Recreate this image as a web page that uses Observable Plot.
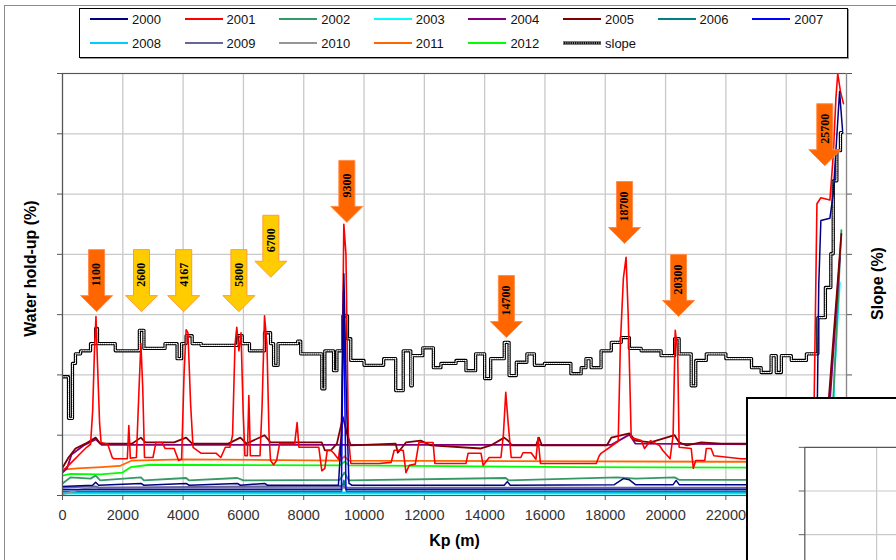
<!DOCTYPE html>
<html>
<head>
<meta charset="utf-8">
<script src="https://cdn.jsdelivr.net/npm/d3@7"></script>
<script src="https://cdn.jsdelivr.net/npm/@observablehq/plot@0.6"></script>
<style>
html,body{margin:0;padding:0;background:#fff;}
#wrap{position:relative;width:896px;height:560px;overflow:hidden;background:#fff;font-family:"Liberation Sans",Arial,sans-serif;}
#frame{position:absolute;left:4px;top:5px;width:960px;height:600px;border-top:1.5px solid #8c8c8c;border-left:1.5px solid #8c8c8c;}
#chart{position:absolute;left:0;top:0;}
#legend{position:absolute;left:79px;top:8px;width:767px;height:48px;border:1px solid #000;box-shadow:1px 1px 0 #999;background:#fff;}
.item{position:absolute;height:16px;display:flex;align-items:center;font-size:13px;color:#111;white-space:nowrap;}
.item svg{margin-right:3px;}
#overlay{position:absolute;left:746px;top:397px;width:200px;height:220px;border-left:2px solid #000;border-top:2px solid #000;background:#fff;overflow:hidden;}
</style>
</head>
<body>
<div id="wrap">
  <div id="frame"></div>
  <div id="chart"></div>
  <div id="legend"></div>
  <div id="overlay"></div>
</div>
<script>
// ---------- data ----------
const xTicks = [0,2000,4000,6000,8000,10000,12000,14000,16000,18000,20000,22000,24000,26000];
const yTicks = [0,10,20,30,40,50,60,70];

const legendNames  = ["2000","2001","2002","2003","2004","2005","2006","2007","2008","2009","2010","2011","2012","slope"];
const seriesColors = ["#000080","#FF0000","#339966","#00FFFF","#800080","#800000","#008080","#0000FF","#00CCFF","#666699","#969696","#FF6600","#00FF00","#000000"];

const kp2000 = [0,1000,1100,1200,2600,2700,4100,4200,5800,5900,6700,6800,9150,9250,9330,9420,9500,9600,14650,14750,14850,18300,18600,18800,19000,20250,20350,20450,25000,25080,25150,25450,25560,25770,25870];
const hu2000 = [1.5,1.7,2.2,1.7,2.0,1.7,2.0,1.7,2.0,1.7,2.0,1.7,1.7,10,36.8,15,2,1.7,1.7,2.3,1.7,1.8,2.8,2.6,1.8,1.8,2.5,1.8,1.8,35,45.6,46,50,67,60.5];

const kp2001 = [0,200,400,600,800,930,1000,1060,1110,1160,1230,1280,1500,1650,1700,2150,2200,2250,2450,2540,2600,2660,2720,3000,3100,3300,3400,3700,3850,3950,4030,4100,4160,4250,4330,4600,5100,5250,5400,5550,5640,5720,5780,5850,5920,5990,6050,6130,6180,6230,6550,6620,6700,6780,6850,6900,7000,7100,7200,7700,7780,7840,8500,8600,8700,8780,8900,9000,9150,9250,9330,9400,9480,9560,10500,10900,11000,11300,11390,11500,11700,11820,12290,12350,13380,13450,13880,13950,14150,14540,14620,14700,14780,14880,15200,15270,15540,15700,15770,15850,17700,17800,17860,18150,18430,18500,18600,18690,18760,18860,19200,19300,19500,19800,19900,20150,20250,20320,20400,20450,20850,20920,21000,21300,21350,21510,21600,22500,24900,25020,25150,25450,25560,25650,25710,25800,25900];
const hu2001 = [4.1,5.0,6.0,7.0,8.0,8.5,14,24,29.7,22,12,8.8,8.5,6.3,6.1,6.1,11.6,6.2,6.3,18,25.2,18,6.3,6.3,8.8,8.8,7.8,7.8,5.8,6,20,27.5,27,15,8,7,7,6.3,8,8,10,25,27.9,24,27,14,6.6,6.6,16.6,6.6,6.6,15,29.8,25,10,5.8,5.1,5.8,8.6,8.6,12.1,8,8,4.1,4.5,7.5,7.5,7,6,10,45,40,10,5.3,5.3,5.5,7.5,7.5,3.8,5,5.2,8.8,8.8,5.3,5.3,7,7,5,6.3,6.3,10,17.1,12,6.3,6.3,7.1,7.1,6,9.6,5.3,5.3,6.6,7,8,9,25,36,39.5,30,9.6,9.1,7.8,9.1,8.3,7.5,6.1,10,27.4,24,8,7.8,4.5,5.8,5.8,7.8,7.8,6.6,6.1,6,48.4,49.4,49,56.4,66,70,67,65];

const kp2002 = [0,260,930,1100,1250,2600,2700,4100,4200,5800,6000,9200,9350,9500,14700,14800,18400,19000,20300,20450,25400,25550,25830];
const hu2002 = [2.0,3.0,2.8,3.3,2.5,3.0,2.5,2.9,2.5,2.9,2.5,2.6,3.8,2.5,2.9,2.5,3.0,2.8,3.0,2.6,2.6,15,44];

const kp2003 = [0,25500,25600,25780];
const hu2003 = [0.3,0.3,20,35.3];

const kp2004 = [0,150,300,700,1100,1300,18200,18800,19000,25350,25780];
const hu2004 = [3.8,4.5,6.8,8.3,9.3,8.4,8.4,10.1,8.6,8.4,39.5];

const kp2005 = [0,200,430,760,1100,1250,2300,2600,2750,3700,4100,4300,5500,5900,6100,6700,6900,8600,8700,8900,9100,9300,9450,9560,11050,11120,11390,11880,12220,13880,14200,14650,14800,14900,15700,15800,15900,18050,18200,18800,19000,19500,20300,20450,20700,21180,21840,25300,25830];
const hu2005 = [4.6,6.3,7.8,8.6,9.6,8.6,8.6,9.6,8.8,8.8,9.6,8.6,8.6,9.6,8.6,10,8.8,8.8,7.5,7.5,8.6,13,10,8.3,8.6,7.1,8.8,9.1,8.3,7.8,8.3,9.6,9.0,8.3,8.3,9.6,8.3,8.3,9.6,10.3,9.1,8.8,10,8.8,8.3,8.8,8.6,8.6,43.4];

const kp2006 = [0,9250,9330,9420,25000];
const hu2006 = [0.7,0.7,2.5,0.7,0.7];

const kp2007 = [0,9250,9320,9400,25000];
const hu2007 = [1.0,1.0,34,1.0,1.0];

const kp2008 = [0,25000];
const hu2008 = [0.5,0.5];

const kp2009 = [0,1100,1200,9300,9400,25000];
const hu2009 = [1.3,1.5,1.3,1.6,1.3,1.3];

const kp2010 = [0,600,1000,25000];
const hu2010 = [0.2,1.0,1.3,1.2];

const kp2011 = [0,500,1300,1900,2300,4000,9200,9350,9500,22000,25000];
const hu2011 = [4.3,4.5,4.7,4.9,5.8,6.0,5.8,6.5,5.8,5.6,5.6];

const kp2012 = [0,260,1260,1990,2260,2900,9200,9350,9500,17000,25000];
const hu2012 = [3.3,3.6,3.5,3.8,4.7,5.1,5.0,5.6,5.0,4.7,4.6];

const kpSlope = [0,200,330,430,600,930,1100,1160,1750,2550,2700,3400,3800,3950,4100,4300,4600,5800,5960,6200,6700,6900,7000,7150,7800,7900,8600,8700,8990,9100,9300,9450,9560,10000,10650,11050,11300,11550,11600,11950,12300,12550,13050,13380,13700,14000,14200,14650,14810,15050,15400,15650,15980,16860,17200,17360,17530,17860,18200,18530,18800,19190,19850,20300,20450,20850,21000,21350,22000,22850,23170,23500,23670,23840,24170,24670,25050,25300,25480,25560,25680,25800,25850];
const slope   = [19.7,12.8,21.9,23.5,24,25.2,27.7,25.2,24,27.4,24.4,25.2,22.7,25.2,26.5,25.2,24.9,26.5,25.2,24,27,25.2,21.6,25.2,25.6,23.5,17.7,24,20.7,24,29.8,26,22.4,21.6,22.7,17.4,24,18.2,23.2,24.5,21.2,21.9,22.4,20.7,23.5,19.4,22.7,25.4,19.9,22.1,23.5,21.6,21.9,20.2,21.2,22.7,21.2,24,25.4,26.2,24.4,24,23.2,26,23.5,18.2,22.4,23.5,22.7,21.2,20.4,23.2,20.4,23.2,22.4,23.5,29.5,34.5,40.1,52.2,57.2,60.2,60.2];

// arrow annotations
const arrowLabel = ["1100","2600","4167","5800","6700","9300","14700","18700","20300","25700"];
const arrowKp    = [1130,2620,4020,5850,6910,9430,14720,18640,20430,25280];
const arrowTip   = [30.5,30.5,30.5,30.5,36.2,45.3,26.2,41.8,29.7,54.7];
const arrowMajor = [true,false,false,false,false,true,true,true,true,true];

// ---------- build ----------
const seriesKp = {"2000":kp2000,"2001":kp2001,"2002":kp2002,"2003":kp2003,"2004":kp2004,"2005":kp2005,"2006":kp2006,"2007":kp2007,"2008":kp2008,"2009":kp2009,"2010":kp2010,"2011":kp2011,"2012":kp2012};
const seriesHu = {"2000":hu2000,"2001":hu2001,"2002":hu2002,"2003":hu2003,"2004":hu2004,"2005":hu2005,"2006":hu2006,"2007":hu2007,"2008":hu2008,"2009":hu2009,"2010":hu2010,"2011":hu2011,"2012":hu2012};
const colorOf = Object.fromEntries(legendNames.map((n,i)=>[n, seriesColors[i]]));
const drawOrder = ["2003","2008","2006","2010","2009","2002","2012","2011","2004","2005","2001","2007","2000"];

const lineMarks = drawOrder.map(n => {
  const data = seriesKp[n].map((k,i)=>({kp:k, v:seriesHu[n][i]}));
  return Plot.line(data, {x:"kp", y:"v", stroke:colorOf[n], strokeWidth: n==="2001" ? 1.6 : (n==="2000" || n==="2007" ? 1.5 : 1.8), clip:true});
});
const slopeData = kpSlope.map((k,i)=>({kp:k, v:slope[i]}));

const arrowSymbol = {
  draw(ctx) {
    const L = 62, hh = 16, bw = 8, hw = 16;
    ctx.moveTo(0, 0);
    ctx.lineTo(-hw, -hh);
    ctx.lineTo(-bw, -hh);
    ctx.lineTo(-bw, -L);
    ctx.lineTo(bw, -L);
    ctx.lineTo(bw, -hh);
    ctx.lineTo(hw, -hh);
    ctx.closePath();
  }
};
const idx = arrowLabel.map((_, i) => i);
const grey = "#c9c9c9";

const chart = Plot.plot({
  width: 896, height: 560,
  marginLeft: 62, marginRight: 50, marginTop: 73, marginBottom: 65,
  style: {background: "transparent", fontFamily: "'Liberation Sans', Arial, sans-serif", fontSize: "14px", color: "#222", display: "block"},
  x: {domain: [0, 26000]},
  y: {domain: [0, 70]},
  marks: [
    Plot.gridX({ticks: xTicks, stroke: grey, strokeOpacity: 1, strokeWidth: 1.3}),
    Plot.gridY({ticks: yTicks, stroke: grey, strokeOpacity: 1, strokeWidth: 1.3}),
    Plot.line(slopeData, {x: "kp", y: "v", curve: "step-after", stroke: "#000", strokeWidth: 3.3, clip: true}),
    Plot.line(slopeData, {x: "kp", y: "v", curve: "step-after", stroke: "#fff", strokeWidth: 1.1, strokeDasharray: "1.1,1.1", clip: true}),
    ...lineMarks,
    Plot.ruleY([0], {stroke: "#555", strokeWidth: 1.2}),
    Plot.ruleY([70], {stroke: "#555", strokeWidth: 1.2}),
    Plot.ruleX([0], {stroke: "#555", strokeWidth: 1.2}),
    Plot.ruleX([26000], {stroke: "#888", strokeWidth: 1.2}),
    Plot.axisX({ticks: xTicks, tickFormat: d => String(d), tickSize: 5, tickPadding: 9, fontSize: 14.5, stroke: "#555", fill: "#333", label: null}),
    Plot.axisY({anchor: "left", ticks: yTicks, tickFormat: () => "", tickSize: 5, stroke: "#555", label: null}),
    Plot.axisY({anchor: "right", ticks: yTicks, tickFormat: () => "", tickSize: 5, stroke: "#555", label: null}),
    Plot.dot(idx.filter(i => arrowMajor[i]), {x: i => arrowKp[i], y: i => arrowTip[i], symbol: arrowSymbol, r: 5, fill: "#FF6600", stroke: "#FF8C4A", strokeWidth: 1}),
    Plot.dot(idx.filter(i => !arrowMajor[i]), {x: i => arrowKp[i], y: i => arrowTip[i], symbol: arrowSymbol, r: 5, fill: "#FFCC00", stroke: "#FF9A3C", strokeWidth: 1}),
    Plot.text(idx, {x: i => arrowKp[i], y: i => arrowTip[i], text: i => arrowLabel[i], rotate: -90, dy: -37, textAnchor: "middle",
      fontFamily: "'Liberation Serif', 'Times New Roman', serif", fontWeight: "bold", fontSize: 12, fill: "#000"}),
    Plot.text(["Water hold-up (%)"], {frameAnchor: "left", dx: -32, dy: -16, rotate: -90, textAnchor: "middle", fontWeight: "bold", fontSize: 16, fill: "#000"}),
    Plot.text(["Slope (%)"], {frameAnchor: "right", dx: 31, dy: -1, rotate: -90, textAnchor: "middle", fontWeight: "bold", fontSize: 16, fill: "#000"}),
    Plot.text(["Kp (m)"], {frameAnchor: "bottom", dy: 50, textAnchor: "middle", fontWeight: "bold", fontSize: 16, fill: "#000"})
  ]
});
document.getElementById("chart").appendChild(chart);

// ---------- legend ----------
const legend = document.getElementById("legend");
legendNames.forEach((n, i) => {
  const col = i % 8, row = Math.floor(i / 8);
  const el = document.createElement("div");
  el.className = "item";
  el.style.left = (9 + col * 94.6) + "px";
  el.style.top = (row === 0 ? 2 : 26) + "px";
  const sw = n === "slope"
    ? `<svg width="40" height="8"><line x1="1" x2="39" y1="4" y2="4" stroke="#000" stroke-width="3.2"/><line x1="1" x2="39" y1="4" y2="4" stroke="#fff" stroke-width="1.1" stroke-dasharray="1.1,1.1"/></svg>`
    : `<svg width="40" height="8"><line x1="1" x2="39" y1="4" y2="4" stroke="${colorOf[n]}" stroke-width="2.2"/></svg>`;
  el.innerHTML = sw + `<span>${n}</span>`;
  legend.appendChild(el);
});

// ---------- overlapping second chart (partially visible) ----------
const ov = Plot.plot({
  width: 213, height: 200,
  marginLeft: 60, marginTop: 51, marginRight: 0, marginBottom: 9.5,
  style: {background: "#fff", display: "block"},
  x: {domain: [0, 2], axis: null},
  y: {domain: [0, 3], axis: null},
  marks: [
    Plot.gridY({ticks: [1, 2], stroke: grey, strokeOpacity: 1, strokeWidth: 1.3}),
    Plot.gridX({ticks: [1], stroke: grey, strokeOpacity: 1, strokeWidth: 1.3}),
    Plot.ruleX([0], {stroke: "#555", strokeWidth: 1.3}),
    Plot.ruleY([3], {stroke: "#555", strokeWidth: 1.3}),
    Plot.axisY({ticks: [1, 2, 3], tickFormat: () => "", tickSize: 6, stroke: "#555", label: null})
  ]
});
document.getElementById("overlay").appendChild(ov);
</script>
</body>
</html>
